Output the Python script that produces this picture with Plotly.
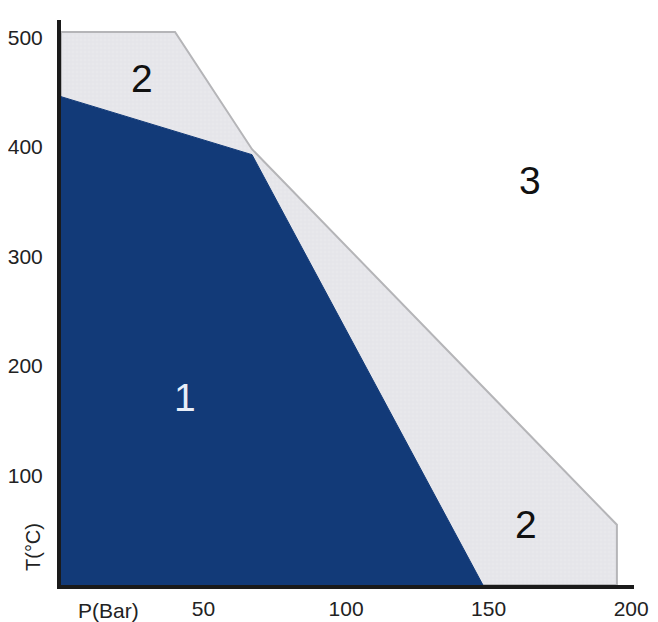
import plotly.graph_objects as go

# Region boundaries (P in bar, T in °C)
zone2_p = [0, 40, 67, 195, 195, 0, 0]
zone2_t = [505, 505, 398, 55, 0, 0, 505]
zone1_p = [0, 67, 148, 0, 0]
zone1_t = [446, 393, 0, 0, 446]

x_ticks = [50, 100, 150, 200]
y_ticks = [100, 200, 300, 400, 500]

labels_text = ["2", "3", "2", "1"]
labels_p = [28.5, 164.5, 163, 43.5]
labels_t = [463, 369, 55, 171]
labels_color = ["#111111", "#111111", "#111111", "#e8eef8"]

fig = go.Figure()
fig.add_trace(go.Scatter(
    x=zone2_p, y=zone2_t, mode="lines", fill="toself",
    fillcolor="#e6e6ea",
    fillpattern=dict(shape="+", bgcolor="#e8e8ec", fgcolor="#d0d0d6", size=4, solidity=0.15),
    line=dict(color="#b5b5b8", width=2), hoverinfo="skip", showlegend=False))
fig.add_trace(go.Scatter(
    x=zone1_p, y=zone1_t, mode="lines", fill="toself",
    fillcolor="#123a78", line=dict(color="#123a78", width=1),
    hoverinfo="skip", showlegend=False))

for txt, p, t, c in zip(labels_text, labels_p, labels_t, labels_color):
    fig.add_annotation(x=p, y=t, text=txt, showarrow=False,
                       font=dict(family="Liberation Sans", size=39, color=c))

fig.add_annotation(xref="paper", yref="paper", x=(108 - 61) / 573, y=-25 / 565,
                   text="P(Bar)", showarrow=False, xanchor="center", yanchor="middle",
                   font=dict(family="Liberation Sans", size=21, color="#222222"))
fig.add_annotation(xref="paper", yref="paper", x=(33 - 61) / 573, y=(585 - 547) / 565,
                   text="T(°C)", showarrow=False, textangle=-90, xanchor="center", yanchor="middle",
                   font=dict(family="Liberation Sans", size=20, color="#222222"))

fig.update_layout(
    width=650, height=614,
    margin=dict(l=53, r=24, t=12, b=37, autoexpand=False),
    paper_bgcolor="white", plot_bgcolor="white",
    font=dict(family="Liberation Sans", size=21, color="#222222"),
    xaxis=dict(range=[0, 201], tickvals=x_ticks, ticktext=[str(v) for v in x_ticks],
               showgrid=False, zeroline=False, showline=True, linecolor="#1a1a1a",
               linewidth=4, ticks="", ticklabelstandoff=2, automargin=False),
    yaxis=dict(range=[0, 516], tickvals=y_ticks, ticktext=[str(v) for v in y_ticks],
               showgrid=False, zeroline=False, showline=True, linecolor="#1a1a1a",
               linewidth=4, ticks="", ticklabelstandoff=10, automargin=False),
)

fig.write_html("out.html")
